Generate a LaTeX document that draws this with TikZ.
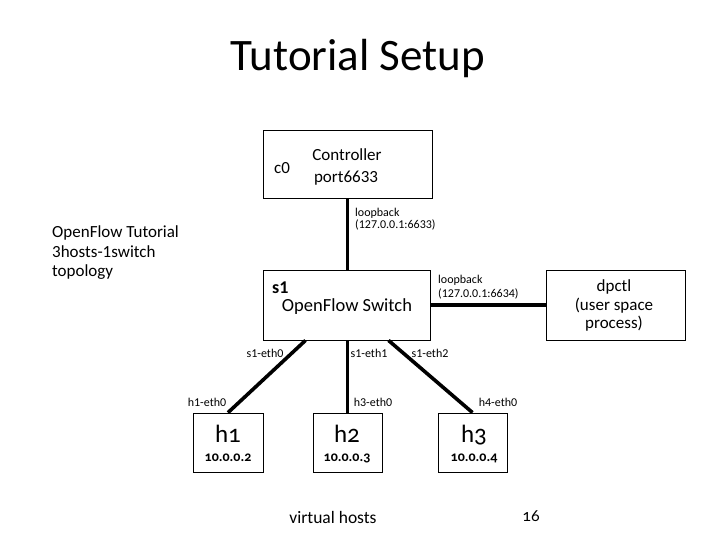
\documentclass[tikz,border=0pt]{standalone}
\usepackage{fontspec}
\setmainfont{Carlito}
\newfontfamily\oldnumfont{Carlito}[Numbers=OldStyle]
\usetikzlibrary{calc}
\tikzset{
    box/.style={draw, line width=0.8pt, inner sep=0pt, minimum width=#1},
    link/.style={line width=3.6pt},
    port/.style={anchor=base, inner sep=0pt, font=\fontsize{12}{13}\selectfont},
    txt/.style={anchor=base, inner sep=0pt, font=\fontsize{17}{19}\selectfont}
}
\begin{document}
\begin{tikzpicture}[x=1pt,y=-1pt]
\useasboundingbox (0,0) rectangle (720,540);
% boxes
\node[box=169pt, minimum height=68pt] (ctrl) at (347.5,164) {};
\node[box=167pt, minimum height=70pt] (sw) at (346.5,305) {};
\node[box=139pt, minimum height=70pt] (dpctl) at (615.5,305) {};
\node[box=70pt, minimum height=59pt] (h1) at (228,442.5) {};
\node[box=69pt, minimum height=59pt] (h2) at (347.5,442.5) {};
\node[box=69pt, minimum height=59pt] (h3) at (472.5,442.5) {};
% links
\draw[link] (ctrl.south) -- (ctrl.south |- sw.north);
\draw[link] (sw.east) -- (dpctl.west);
\draw[link] ($(sw.south)+(-41,0)$) -- (h1.north);
\draw[link] (h2.north |- sw.south) -- (h2.north);
\draw[link] ($(sw.south)+(42,0)$) -- (h3.north);
% texts
\node[anchor=base, inner sep=0pt, font=\fontsize{45}{50}\selectfont] (title) at (358,71) {Tutorial Setup};
\node[txt] (ctrltxt) at (347,161) {Controller};
\node[txt] (ctrlport) at (346,183) {port6633};
\node[txt] (c0) at (282,174) {c0};
\node[port, anchor=base west] (lb1) at (355,217) {loopback};
\node[port, anchor=base west] (lb1ip) at (355,229) {(127.0.0.1:6633)};
\node[port, anchor=base west] (lb2) at (438,283) {loopback};
\node[port, anchor=base west] (lb2ip) at (438,297) {(127.0.0.1:6634)};
\node[anchor=base west, inner sep=0pt, font=\fontsize{18}{20}\selectfont\bfseries] (s1) at (272,293) {s1};
\node[anchor=base, inner sep=0pt, font=\fontsize{18.5}{21}\selectfont] (swtxt) at (347,311) {OpenFlow Switch};
\node[txt] (dp1) at (614,291) {dpctl};
\node[txt] (dp2) at (614,310) {(user space};
\node[txt] (dp3) at (614,328) {process)};
\node[txt, anchor=base west] (topo1) at (52,237) {OpenFlow Tutorial};
\node[txt, anchor=base west] (topo2) at (52,257) {3hosts-1switch};
\node[txt, anchor=base west] (topo3) at (52,276) {topology};
\node[port] (s1e0) at (265,357) {s1-eth0};
\node[port] (s1e1) at (369,357) {s1-eth1};
\node[port] (s1e2) at (430,357) {s1-eth2};
\node[port] (h1e0) at (207,406) {h1-eth0};
\node[port] (h3e0) at (373,406) {h3-eth0};
\node[port] (h4e0) at (498,406) {h4-eth0};
\foreach \n/\x/\ip in {1/228/10.0.0.2, 2/347/10.0.0.3, 3/474/10.0.0.4}{
    \node[anchor=base, inner sep=0pt, font=\fontsize{25}{27}\selectfont\oldnumfont] (hname\n) at (\x,442) {h\n};
    \node[anchor=base, inner sep=0pt, font=\fontsize{14}{16}\selectfont\oldnumfont\bfseries] (hip\n) at (\x,461) {\ip};
}
\node[anchor=base, inner sep=0pt, font=\fontsize{17.5}{19}\selectfont] (virt) at (333,523) {virtual hosts};
\node[anchor=base, inner sep=0pt, font=\fontsize{17}{19}\selectfont\oldnumfont] (pagenum) at (531,521) {16};
\end{tikzpicture}
\end{document}
